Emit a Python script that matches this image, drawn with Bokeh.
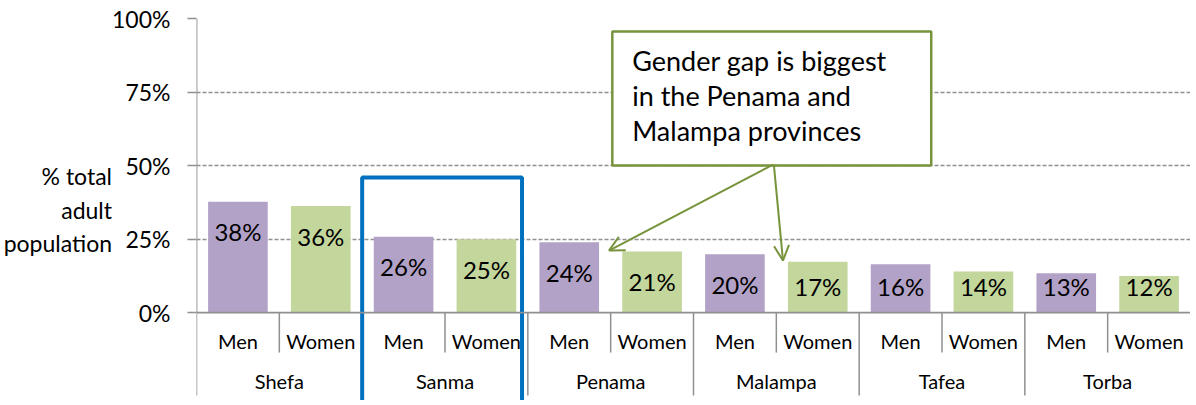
from bokeh.plotting import figure
from bokeh.models import FactorRange, Range1d, FixedTicker, Span, Arrow, OpenHead, ColumnDataSource
from bokeh.core.properties import value
from bokeh.embed import file_html
from bokeh.resources import INLINE

provinces = ["Shefa", "Sanma", "Penama", "Malampa", "Tafea", "Torba"]
genders = ["Men", "Women"]
men = [37.7, 25.8, 23.9, 19.8, 16.4, 13.4]
women = [36.2, 24.9, 20.8, 17.3, 14.0, 12.4]
y_ticks = [0, 25, 50, 75, 100]
note_lines = ["Gender gap is biggest", "in the Penama and", "Malampa provinces"]
highlight = "Sanma"

FONT = "Lato"
PURPLE = "#B3A2C7"
GREEN = "#C3D69B"
GRAY = "#909090"
OLIVE = "#77933C"

factors = [(pv, g) for pv in provinces for g in genders]
vals = []
for m, w in zip(men, women):
    vals += [m, w]
colors = [PURPLE, GREEN] * len(provinces)
labels = [f"{v:.0f}%" for v in vals]
label_y = [max(v - 10.2, 8.8) for v in vals]

src = ColumnDataSource(dict(x=factors, top=vals, color=colors, label=labels, ly=label_y))

x_range = FactorRange(*factors, factor_padding=0, group_padding=0, subgroup_padding=0, range_padding=0)
p = figure(width=1190, height=400, x_range=x_range, y_range=Range1d(-29.9, 100),
           output_backend="svg", toolbar_location=None,
           min_border_left=194, min_border_right=0, min_border_top=18, min_border_bottom=0)
p.outline_line_color = None
p.background_fill_color = "white"
p.border_fill_color = "white"

p.vbar(x="x", top="top", width=0.72, bottom=0, color="color", source=src, line_color=None)
p.text(x="x", y="ly", text="label", source=src, text_align="center", text_baseline="middle",
       text_font=value(FONT), text_font_size="24px", text_color="black")

# axes
p.xaxis.visible = False
p.xgrid.visible = False
ya = p.yaxis[0]
ya.ticker = FixedTicker(ticks=y_ticks)
ya.major_label_overrides = {t: f"{t}%" for t in y_ticks}
ya.axis_line_color = None
ya.major_tick_line_color = GRAY
ya.major_tick_line_width = 1.5
ya.major_tick_out = 9
ya.major_tick_in = 0
ya.minor_tick_line_color = None
ya.major_label_text_font = FONT
ya.major_label_text_font_size = "23px"
ya.major_label_text_color = "black"
ya.major_label_standoff = 17
ya.axis_label = "% total\nadult\npopulation"
ya.axis_label_orientation = "horizontal"
ya.axis_label_text_font = FONT
ya.axis_label_text_font_size = "23px"
ya.axis_label_text_font_style = "normal"
ya.axis_label_text_color = "black"
ya.axis_label_text_align = "center"
ya.axis_label_standoff = -3

p.ygrid.ticker = FixedTicker(ticks=y_ticks[1:])
p.ygrid.grid_line_color = GRAY
p.ygrid.grid_line_dash = "4 2"
p.ygrid.grid_line_width = 1.5

# baseline
p.add_layout(Span(location=0, dimension="width", line_color=GRAY, line_width=1.8))

n = len(factors)
# category separators
sub_x = [i for i in range(1, n, 2)]
p.segment(x0=sub_x, y0=[0] * len(sub_x), x1=sub_x, y1=[-13.6] * len(sub_x), line_color=GRAY, line_width=1.5)
grp_x = [i for i in range(0, n, 2)]
p.segment(x0=grp_x, y0=[0] * len(grp_x), x1=grp_x, y1=[-28.2] * len(grp_x), line_color=GRAY, line_width=1.5)
p.segment(x0=[0], y0=[0], x1=[0], y1=[100], line_color=GRAY, line_width=1.8)

# category labels
p.text(x=factors, y=[-9.5] * n, text=[f[1] for f in factors], text_align="center", text_baseline="middle",
       text_font=value(FONT), text_font_size="20px", text_color="black")
p.text(x=provinces, y=[-23.1] * len(provinces), text=provinces, text_align="center", text_baseline="middle",
       text_font=value(FONT), text_font_size="20px", text_color="black")

# highlight box around Sanma
hi = provinces.index(highlight) * 2
p.line(x=[hi, hi, hi + 1.93, hi + 1.93], y=[-40, 45.9, 45.9, -40], line_color="#0070C0", line_width=4)

# annotation box
p.quad(left=[5.02], right=[8.87], bottom=[50.0], top=[95.6], fill_color="white", line_color=OLIVE, line_width=2.5)
p.text(x=[5.26] * 3, y=[85.7, 73.8, 61.9], text=note_lines, text_align="left", text_baseline="middle",
       text_font=value(FONT), text_font_size="27px", text_color="black")
p.add_layout(Arrow(x_start=6.96, y_start=50.3, x_end=4.98, y_end=21.1, line_color=OLIVE, line_width=2,
                   end=OpenHead(size=15, line_color=OLIVE, line_width=2)))
p.add_layout(Arrow(x_start=6.97, y_start=50.3, x_end=7.08, y_end=17.7, line_color=OLIVE, line_width=2,
                   end=OpenHead(size=15, line_color=OLIVE, line_width=2)))

open("out.html", "w").write(file_html(p, INLINE))
